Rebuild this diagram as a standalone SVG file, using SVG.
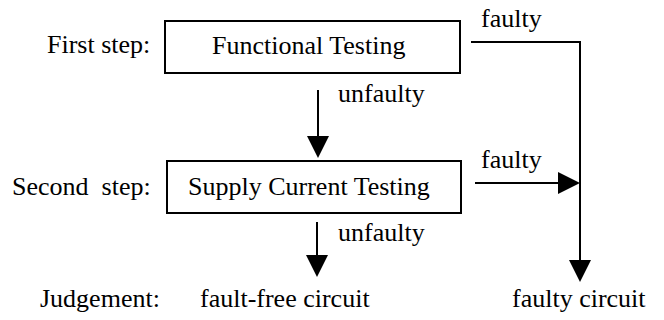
<svg xmlns="http://www.w3.org/2000/svg" width="664" height="320" viewBox="0 0 664 320">
  <style>
    text { font-family: "Liberation Serif", "Times New Roman", serif; font-size: 26px; fill: #000; white-space: pre; }
    .box { fill: #fff; stroke: #000; stroke-width: 2; }
    .conn { fill: none; stroke: #000; stroke-width: 2; }
  </style>
  <defs>
    <marker id="head" viewBox="0 0 22 22" refX="0" refY="11" markerWidth="22" markerHeight="22" markerUnits="userSpaceOnUse" orient="auto">
      <path d="M0,0 L22,11 L0,22 Z" fill="#000"/>
    </marker>
  </defs>
  <rect width="664" height="320" fill="#fff"/>

  <g id="labels">
    <text x="47" y="53">First step:</text>
    <text x="12" y="195" xml:space="preserve">Second  step:</text>
    <text x="40" y="307">Judgement:</text>
  </g>

  <g id="functional-testing">
    <rect class="box" x="165" y="21" width="295" height="52"/>
    <text x="212" y="54">Functional Testing</text>
  </g>

  <g id="supply-current-testing">
    <rect class="box" x="167" y="161" width="294" height="52"/>
    <text x="188" y="195">Supply Current Testing</text>
  </g>

  <g id="fault-free-circuit">
    <text x="200" y="307">fault-free circuit</text>
  </g>

  <g id="faulty-circuit">
    <text x="512" y="307">faulty circuit</text>
  </g>

  <g id="connectors">
    <path class="conn" d="M318,90 V136" marker-end="url(#head)"/>
    <text x="338" y="102">unfaulty</text>
    <path class="conn" d="M317,222 V255" marker-end="url(#head)"/>
    <text x="338" y="241">unfaulty</text>
    <path class="conn" d="M471,42 H580 V260" marker-end="url(#head)"/>
    <text x="481" y="27">faulty</text>
    <path class="conn" d="M475,183 H558" marker-end="url(#head)"/>
    <text x="481" y="168">faulty</text>
  </g>
</svg>
